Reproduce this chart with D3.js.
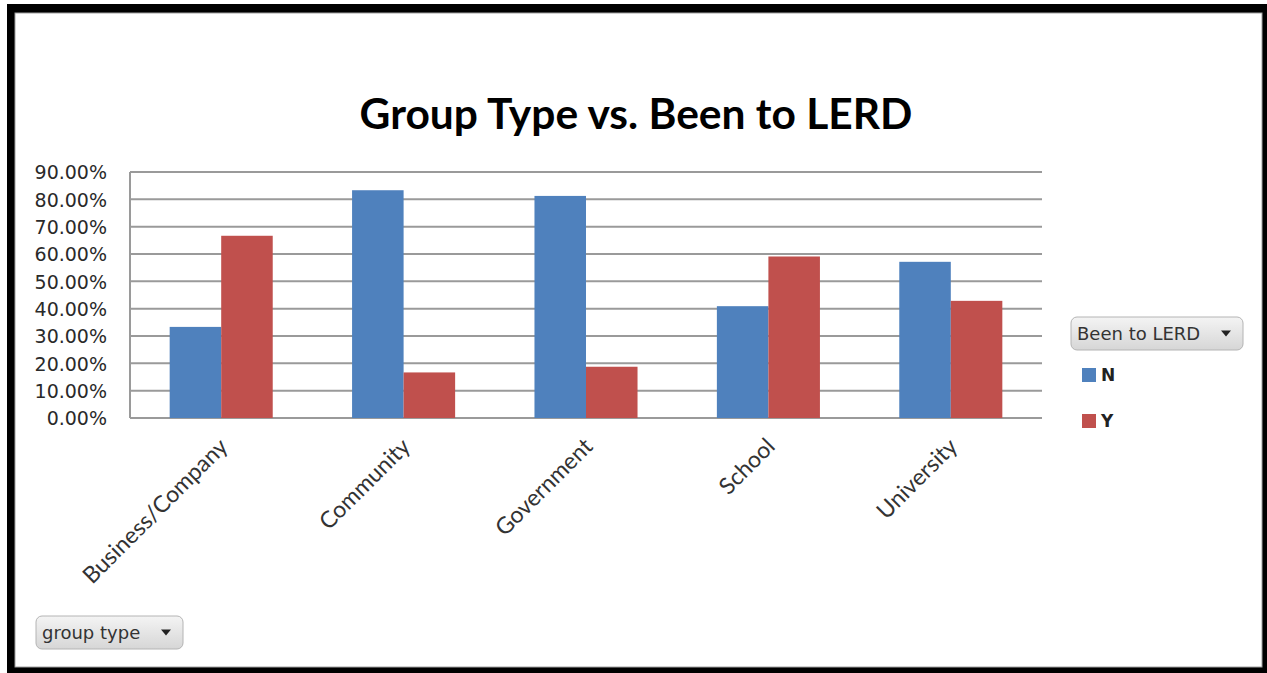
<!DOCTYPE html>
<html>
<head>
<meta charset="utf-8">
<script src="https://cdn.jsdelivr.net/npm/d3@7"></script>
<style>
  html, body { margin: 0; padding: 0; background: #fff; }
  svg { display: block; }
</style>
</head>
<body>
<svg id="chart" width="1267" height="673"></svg>
<script>
// Share of each group type that has / has not been to LERD
const categories = ["Business/Company", "Community", "Government", "School", "University"];
const seriesNames = ["N", "Y"];
const valuesN = [33.33, 83.33, 81.25, 40.91, 57.14];
const valuesY = [66.67, 16.67, 18.75, 59.09, 42.86];
const yTicks = [0, 10, 20, 30, 40, 50, 60, 70, 80, 90];
const chartTitle = "Group Type vs. Been to LERD";
const legendTitle = "Been to LERD";
const axisFieldLabel = "group type";

const colors = { N: "#4F81BD", Y: "#C0504D" };
const rows = categories.map((c, i) => ({ category: c, N: valuesN[i], Y: valuesY[i] }));

const svg = d3.select("#chart");
const W = 1267, H = 673;

// Frame: heavy black border with a thin grey inner edge
svg.append("rect").attr("x", 7).attr("y", 4).attr("width", W).attr("height", H).attr("fill", "#000");
svg.append("rect").attr("x", 15).attr("y", 13).attr("width", 1247).attr("height", 654)
  .attr("fill", "#fff").attr("stroke", "#a0a0a0").attr("stroke-width", 1);

const plot = { left: 130, right: 1042, top: 172, bottom: 418 };

const x0 = d3.scaleBand().domain(categories)
  .range([plot.left, plot.right]).paddingInner(0.435).paddingOuter(0.2175);
const x1 = d3.scaleBand().domain(seriesNames).range([0, x0.bandwidth()]);
const y = d3.scaleLinear().domain([0, 90]).range([plot.bottom, plot.top]);

// Horizontal gridlines
svg.append("g").selectAll("line").data(yTicks).join("line")
  .attr("x1", plot.left).attr("x2", plot.right)
  .attr("y1", d => y(d)).attr("y2", d => y(d))
  .attr("stroke", "#9a9a9a").attr("stroke-width", 2);

// Value axis line
svg.append("line").attr("x1", plot.left).attr("x2", plot.left)
  .attr("y1", y(90)).attr("y2", y(0)).attr("stroke", "#9a9a9a").attr("stroke-width", 2);

// Bars
const groups = svg.append("g").selectAll("g").data(rows).join("g")
  .attr("transform", d => `translate(${x0(d.category)},0)`);
groups.selectAll("rect")
  .data(d => seriesNames.map(k => ({ key: k, value: d[k] })))
  .join("rect")
  .attr("x", d => x1(d.key))
  .attr("width", x1.bandwidth())
  .attr("y", d => y(d.value))
  .attr("height", d => y(0) - y(d.value))
  .attr("fill", d => colors[d.key]);

// Y axis labels
const yAxis = d3.axisLeft(y).tickValues(yTicks).tickSize(0).tickPadding(23)
  .tickFormat(d => d3.format(".2f")(d) + "%");
const gy = svg.append("g").attr("transform", `translate(${plot.left},0)`).call(yAxis);
gy.select(".domain").remove();
gy.selectAll("text")
  .attr("font-family", "DejaVu Sans").attr("font-size", 19).attr("fill", "#2a2a2a")
  .attr("dy", "0.36em");

// Category labels, rotated
const xAxis = d3.axisBottom(x0).tickSize(0).tickPadding(0);
const gx = svg.append("g").attr("transform", `translate(0,${plot.bottom})`).call(xAxis);
gx.select(".domain").remove();
gx.selectAll("text")
  .attr("font-family", "Lato").attr("font-size", 23).attr("fill", "#333")
  .attr("text-anchor", "end")
  .attr("dy", 0)
  .attr("transform", "translate(8,30) rotate(-45)");

// Title
svg.append("text").attr("x", 636).attr("y", 129)
  .attr("text-anchor", "middle")
  .attr("font-family", "Lato").attr("font-weight", "bold").attr("font-size", 42.5)
  .attr("fill", "#000").text(chartTitle);

// Drop-down style buttons
const defs = svg.append("defs");
const grad = defs.append("linearGradient").attr("id", "btnGrad")
  .attr("x1", 0).attr("y1", 0).attr("x2", 0).attr("y2", 1);
grad.append("stop").attr("offset", "0%").attr("stop-color", "#f4f4f4");
grad.append("stop").attr("offset", "100%").attr("stop-color", "#d6d6d6");

function button(x, yTop, w, h, label, fontSize) {
  const g = svg.append("g").attr("transform", `translate(${x},${yTop})`);
  g.append("rect").attr("width", w).attr("height", h).attr("rx", 6)
    .attr("fill", "url(#btnGrad)").attr("stroke", "#b4b4b4");
  g.append("text").attr("x", 6).attr("y", h / 2).attr("dy", "0.35em")
    .attr("font-family", "DejaVu Sans").attr("font-size", fontSize).attr("fill", "#333")
    .text(label);
  g.append("path")
    .attr("d", `M${w - 22},${h / 2 - 3} l10,0 l-5,6 z`)
    .attr("fill", "#222");
}
button(1071, 317, 172, 33, legendTitle, 18);
button(36, 616, 147, 33, axisFieldLabel, 18);

// Legend entries
const legend = svg.append("g").selectAll("g").data(seriesNames).join("g")
  .attr("transform", (d, i) => `translate(1082,${368 + i * 46})`);
legend.append("rect").attr("width", 14).attr("height", 14).attr("fill", d => colors[d]);
legend.append("text").attr("x", 19).attr("y", 7).attr("dy", "0.36em")
  .attr("font-family", "DejaVu Sans").attr("font-weight", "bold").attr("font-size", 17)
  .attr("fill", "#222").text(d => d);
</script>
</body>
</html>
